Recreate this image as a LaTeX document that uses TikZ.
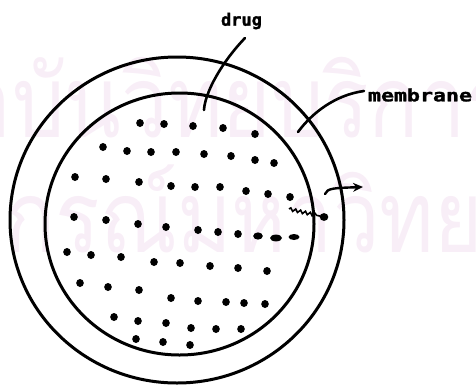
\documentclass[tikz,border=0pt]{standalone}
\usepackage{fontspec}
\usetikzlibrary{decorations.pathmorphing,arrows.meta}
\newfontfamily\thaiwm[Script=Thai]{Loma}
\newfontfamily\typefont[FakeBold=1.5]{DejaVu Sans Mono Bold}
\definecolor{wmcolor}{RGB}{248,238,247}
\begin{document}
\begin{tikzpicture}[x=1pt,y=-1pt,
  wm/.style={text=wmcolor, inner sep=0pt, anchor=base west, xscale=0.83, font=\thaiwm\fontsize{100}{100}\selectfont},
  lab/.style={inner sep=0pt, font=\typefont\fontsize{17}{17}\selectfont},
  ring/.style={draw=black, line width=3pt},
  lead/.style={draw=black, line width=2.6pt, line cap=round},
  drop/.style={fill=black}]
\useasboundingbox (0,0) rectangle (476,386);
\clip (0,0) rectangle (476,386);
% watermark
\node[wm] (wmA) at (12,137) {\llap{สถา}บันวิทยบริการ};
\node[wm] (wmB) at (5,252) {\llap{จุฬาลง}กรณ์มหาวิทยาลัย};
% membrane rings
\draw[ring] (177,220) ellipse [x radius=167, y radius=163];
\draw[ring] (179.5,224) ellipse [x radius=134.5, y radius=131];
% labels
\node[lab] (drug) at (241.5,21) {drug};
\node[lab, xscale=1.27] (mem) at (420,95) {membrane};
\coordinate (drugS) at (245,38);
\coordinate (drugE) at (204,110);
\coordinate (memS) at (364,91);
\coordinate (memE) at (298,132);
\draw[lead] (drugS) .. controls (222,62) and (205,92) .. (drugE);
\draw[lead] (memS) .. controls (335,95) and (312,113) .. (memE);
% diffusion arrow
\coordinate (arrS) at (325,194);
\coordinate (arrE) at (363,187);
\draw[line width=2.4pt, line cap=round, -{Stealth[length=10pt,width=9pt]}]
  (arrS) .. controls (327,188) and (335,188) .. (arrE);
% squiggle
\coordinate (sqS) at (289,209);
\coordinate (sqE) at (324,217);
\draw[line width=1.6pt, decorate, decoration={snake, amplitude=1.5pt, segment length=5pt, post length=6pt}] (sqS) -- (sqE);
\fill (sqE) ellipse [x radius=4.3, y radius=3.9];
% drug particles
\foreach \x/\y in {
140/123,164/124,193/126,223/128,255/134,
103/147,127/151,151/152,176/152,204/154,231/156,255/160,274/163,
75/177,106/179,139/182,171/186,195/187,220/187,246/191,268/194,290/197,
74/217,106/220,138/224,166/227,198/230,218/232,238/234,
67/252,91/255,121/257,154/262,180/263,210/266,238/268,267/271,
80/283,108/287,139/290,171/298,198/301,226/302,244/303,265/304,
114/317,138/321,166/323,191/328,216/329,241/329,
136/339,163/342,190/345}
  \fill[drop] (\x,\y) ellipse [x radius=3.8, y radius=4];
\fill[drop] (258,236) ellipse [x radius=4.8, y radius=3.6];
\fill[drop] (276,238) ellipse [x radius=6, y radius=3.4];
\fill[drop] (294,237) ellipse [x radius=5.5, y radius=3];
\end{tikzpicture}
\end{document}
